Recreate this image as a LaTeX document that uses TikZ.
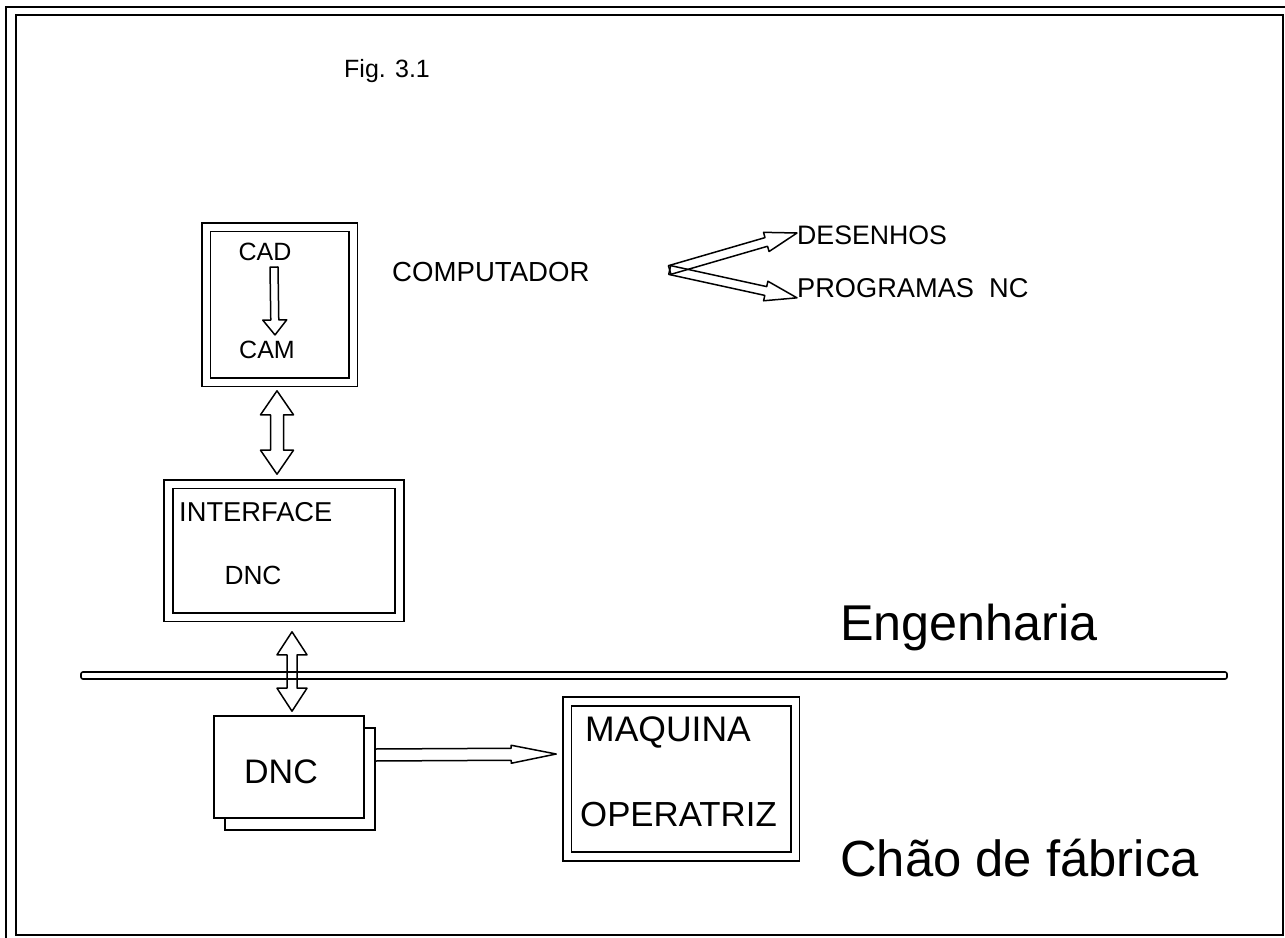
\documentclass[tikz,border=0pt]{standalone}
\usepackage{fontspec}
\setmainfont{Liberation Sans}
\usetikzlibrary{calc,shadows}
\tikzset{framebox/.style={draw,double,double distance=7pt,line width=1.6pt,inner sep=0pt},dncbox/.style={draw,fill=white,line width=1.6pt,inner sep=0pt,copy shadow={shadow xshift=11pt,shadow yshift=-12pt,draw,fill=white,line width=1.6pt}},lbl/.style={inner sep=0pt,font=\fontsize{#1}{#1}\selectfont},blockarr/.style={draw,line width=1.5pt,line join=round}}
% hollow arrow: start, tip, half shaft, half head, head length
\newcommand{\hollowarrow}[5]{%
\coordinate (ha-s) at (#1);
\coordinate (ha-e) at (#2);
\coordinate (ha-h) at ($(ha-e)!#5pt!(ha-s)$);
\draw[blockarr] ($(ha-s)!#3pt!90:(ha-e)$) -- ($(ha-h)!#3pt!90:(ha-e)$) -- ($(ha-h)!#4pt!90:(ha-e)$) -- (ha-e) -- ($(ha-h)!#4pt!-90:(ha-e)$) -- ($(ha-h)!#3pt!-90:(ha-e)$) -- ($(ha-s)!#3pt!-90:(ha-e)$) -- cycle;}
% hollow double arrow
\newcommand{\hollowdarrow}[5]{%
\coordinate (ha-s) at (#1);
\coordinate (ha-e) at (#2);
\coordinate (ha-h) at ($(ha-e)!#5pt!(ha-s)$);
\coordinate (ha-g) at ($(ha-s)!#5pt!(ha-e)$);
\draw[blockarr] (ha-s) -- ($(ha-g)!#4pt!90:(ha-e)$) -- ($(ha-g)!#3pt!90:(ha-e)$) -- ($(ha-h)!#3pt!90:(ha-e)$) -- ($(ha-h)!#4pt!90:(ha-e)$) -- (ha-e) -- ($(ha-h)!#4pt!-90:(ha-e)$) -- ($(ha-h)!#3pt!-90:(ha-e)$) -- ($(ha-g)!#3pt!-90:(ha-e)$) -- ($(ha-g)!#4pt!-90:(ha-e)$) -- cycle;}
\begin{document}
\begin{tikzpicture}[x=1pt,y=-1pt]
\useasboundingbox (0,0) rectangle (1285,937);
\clip (0,0) rectangle (1285,937);
% page frame
\draw[line width=1.3pt] (6,7) rectangle (1296,948);
\draw[line width=2pt] (16,15) rectangle (1283,935);
\node[lbl=25,anchor=west] (fig) at (344,71) {Fig. 3.1};
% engenharia
\node[framebox,minimum width=147pt,minimum height=155pt] (cadbox) at (279.5,304.5) {};
\node[lbl=25] (cad) at (265,252) {CAD};
\node[lbl=25] (cam) at (267,350) {CAM};
\node[lbl=27.6,anchor=west] (comp) at (392,272) {COMPUTADOR};
\node[lbl=26.7,anchor=west] (des) at (797,235) {DESENHOS};
\node[lbl=27.2,anchor=west] (prog) at (797,288) {PROGRAMAS\ \ NC};
\node[framebox,minimum width=231pt,minimum height=133pt] (iface) at (284,550.5) {};
\node[lbl=27.3,anchor=west] (ifacetxt) at (179,512) {INTERFACE};
\node[lbl=26.3] (ifacednc) at (253,575) {DNC};
\node[draw,line width=1.6pt,rounded corners=2pt,minimum width=1146pt,minimum height=7pt,inner sep=0pt] (bar) at (654,675.5) {};
\node[lbl=50.3,anchor=base west] (eng) at (840,640) {Engenharia};
\node[lbl=50.8,anchor=base west] (chao) at (840,876) {Chão de fábrica};
% chao de fabrica
\node[dncbox,minimum width=150pt,minimum height=102pt] (dnc) at (289,767) {};
\node[lbl=34] (dnctxt) at (281,772) {DNC};
\node[framebox,minimum width=228pt,minimum height=155pt] (maq) at (681,779) {};
\node[lbl=35.5,anchor=west] (maqtxt) at (585,732) {MAQUINA};
\node[lbl=34.8,anchor=west] (optxt) at (580,815) {OPERATRIZ};
% setas
\coordinate (fork) at ($(comp.east)+(80,-2)$);
\hollowarrow{[xshift=9pt,yshift=-6pt]cad.south}{[xshift=8pt,yshift=6pt]cam.north}{4}{12}{15}
\hollowarrow{fork}{[yshift=2pt]des.west}{4.5}{10}{32}
\hollowarrow{fork}{prog.south west}{4.5}{10}{32}
\hollowdarrow{[xshift=-2.5pt,yshift=-8pt]cadbox.south}{[xshift=-7pt,yshift=9pt]iface.north}{6.5}{16.5}{24}
\hollowdarrow{[xshift=8pt,yshift=-14pt]iface.south}{[xshift=3pt,yshift=4pt]dnc.north}{5}{15}{23}
\hollowarrow{[xshift=10pt,yshift=12pt]dnc.east}{[xshift=-10pt,yshift=25pt]maq.west}{6}{9}{45}
\end{tikzpicture}
\end{document}
